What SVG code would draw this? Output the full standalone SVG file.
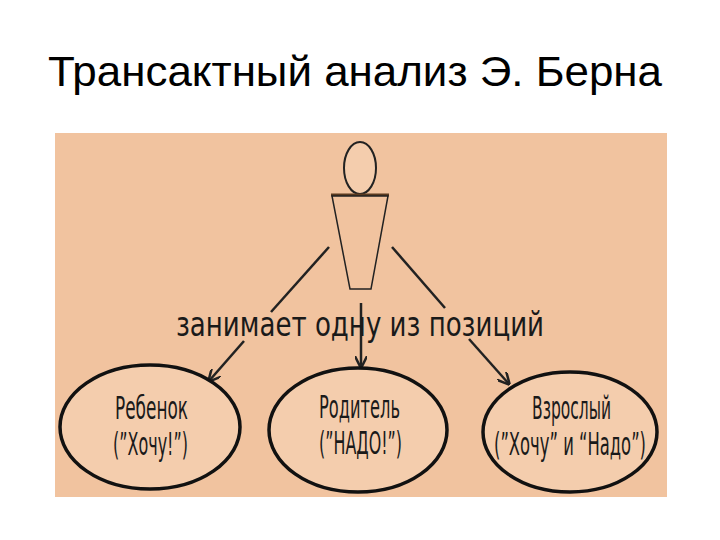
<svg xmlns="http://www.w3.org/2000/svg" width="720" height="540" viewBox="0 0 720 540">
<defs>
<style>
.t{font-family:"DejaVu Sans Condensed","Liberation Sans",sans-serif;fill:#1a1a1a;font-size:23px}
.e{fill:#f4cdad;stroke:#111;stroke-width:3.5}
.c{stroke:#222;stroke-width:2.5;fill:none}
</style>
<marker id="a" viewBox="0 0 10 10" refX="9" refY="5" markerWidth="5" markerHeight="5" orient="auto"><path d="M0,0 L10,5 L0,10" fill="none" stroke="#222" stroke-width="2"/></marker>
</defs>
<rect width="720" height="540" fill="#fff"/>
<text x="355" y="86" text-anchor="middle" font-family="Liberation Sans,Arial,sans-serif" font-size="43" fill="#000" textLength="614" lengthAdjust="spacingAndGlyphs">Трансактный анализ Э. Берна</text>
<rect x="55" y="133" width="612" height="364" fill="#f1c39f"/>
<g id="person">
<ellipse cx="360" cy="168" rx="16" ry="26" fill="#f4cdad" stroke="#222" stroke-width="2"/>
<line x1="331" y1="195" x2="389" y2="195" stroke="#5a3a20" stroke-width="3"/>
<path d="M332,196 L388,196 L371,289 L350,289 Z" fill="#f1c39f" stroke="#222" stroke-width="1.5"/>
</g>
<g id="connectors">
<line class="c" x1="329" y1="247" x2="271" y2="312"/>
<line class="c" x1="244" y1="341" x2="209" y2="381" marker-end="url(#a)"/>
<line class="c" x1="361" y1="303" x2="361" y2="367" marker-end="url(#a)"/>
<line class="c" x1="392" y1="247" x2="445" y2="308"/>
<line class="c" x1="469" y1="339" x2="509" y2="384" marker-end="url(#a)"/>
</g>
<text class="t" transform="translate(176,336) scale(1,1.45)" font-size="28" textLength="368" lengthAdjust="spacingAndGlyphs">занимает одну из позиций</text>
<g id="child">
<ellipse class="e" cx="150" cy="427" rx="90" ry="62"/>
<text class="t" transform="translate(115,419) scale(1,1.35)" textLength="73" lengthAdjust="spacingAndGlyphs">Ребенок</text>
<text class="t" transform="translate(113,455) scale(1,1.35)" textLength="75" lengthAdjust="spacingAndGlyphs">(”Хочу!”)</text>
</g>
<g id="parent">
<ellipse class="e" cx="358" cy="430" rx="89" ry="62"/>
<text class="t" transform="translate(319,418) scale(1,1.35)" textLength="81" lengthAdjust="spacingAndGlyphs">Родитель</text>
<text class="t" transform="translate(319,454) scale(1,1.35)" textLength="83" lengthAdjust="spacingAndGlyphs">(”НАДО!”)</text>
</g>
<g id="adult">
<ellipse class="e" cx="570" cy="432" rx="87" ry="60"/>
<text class="t" transform="translate(532,419) scale(1,1.35)" textLength="79" lengthAdjust="spacingAndGlyphs">Взрослый</text>
<text class="t" transform="translate(494,455) scale(1,1.35)" textLength="152" lengthAdjust="spacingAndGlyphs">(”Хочу” и “Надо”)</text>
</g>
</svg>
